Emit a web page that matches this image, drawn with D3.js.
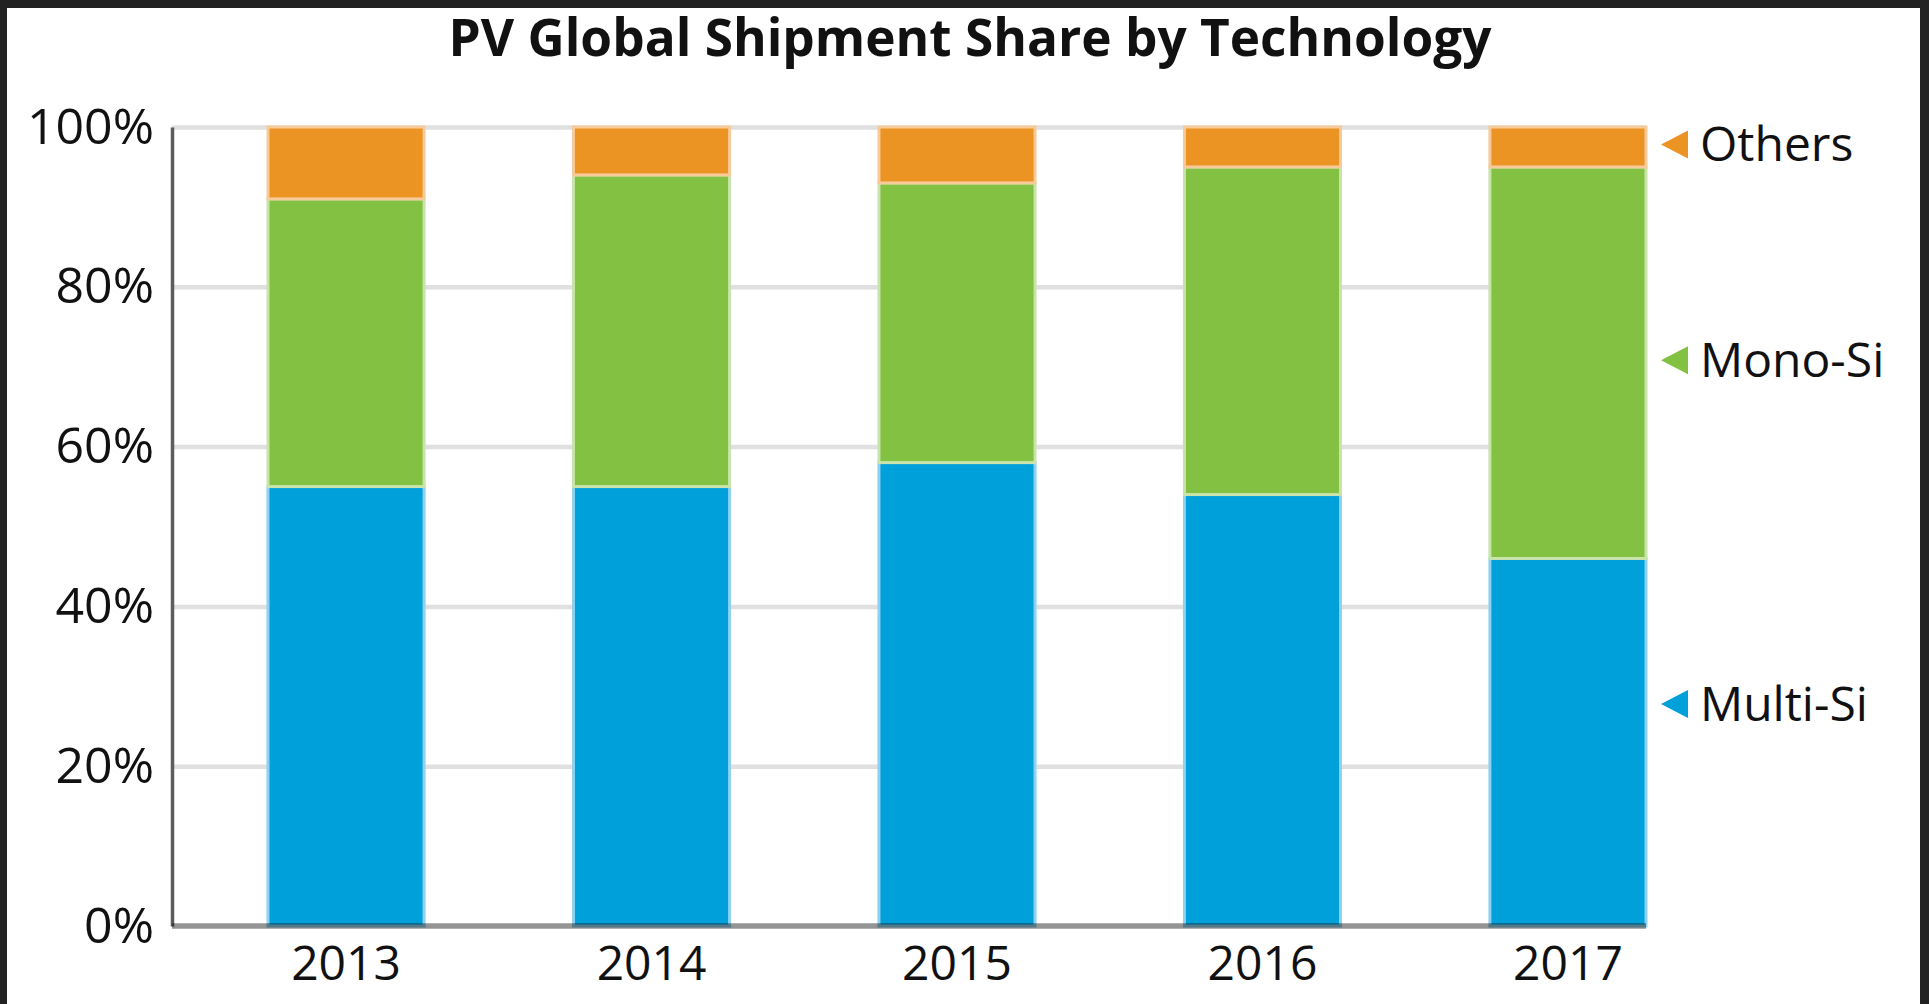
<!DOCTYPE html>
<html>
<head>
<meta charset="utf-8">
<script src="https://cdn.jsdelivr.net/npm/d3@7"></script>
<style>
  html, body { margin: 0; padding: 0; background: #222222; }
  svg { display: block; }
  text { font-family: "Open Sans", "Noto Sans", sans-serif; fill: #111; }
</style>
</head>
<body>
<svg id="chart" width="1929" height="1004"></svg>
<script>
// ---- data ----
const years = ["2013", "2014", "2015", "2016", "2017"];
const multiSi = [55, 55, 58, 54, 46];
const monoSi  = [36, 39, 35, 41, 49];
const others  = [9, 6, 7, 5, 5];
const seriesNames = ["Multi-Si", "Mono-Si", "Others"];
const yTicks = [0, 20, 40, 60, 80, 100];
const titleText = "PV Global Shipment Share by Technology";

// ---- styles ----
const fills   = { "Multi-Si": "#00a0da", "Mono-Si": "#82c142", "Others": "#eb9424" };
const strokes = { "Multi-Si": "#8fd1f0", "Mono-Si": "#c9e4aa", "Others": "#f7cb99" };
// legend anchor positions (value units on the y scale, beside last bar)
const legendAt = { "Others": 97.8, "Mono-Si": 70.8, "Multi-Si": 27.8 };

const svg = d3.select("#chart");
// white panel inside dark frame
svg.append("rect").attr("x", 7).attr("y", 8).attr("width", 1913).attr("height", 996).attr("fill", "#ffffff");

const mLeft = 172, mRight = 1646, mTop = 127, mBottom = 926;

const x = d3.scaleBand().domain(years).range([268, mRight]).paddingInner(0.489).paddingOuter(0);
const y = d3.scaleLinear().domain([0, 100]).range([mBottom, mTop]);

// gridlines
const grid = svg.append("g").attr("transform", `translate(${mLeft},0)`)
  .call(d3.axisLeft(y).tickValues(yTicks.filter(d => d > 0)).tickSize(-(mRight - mLeft)).tickFormat(""));
grid.select(".domain").remove();
grid.selectAll(".tick line").attr("stroke", "#e0e0e0").attr("stroke-width", 4.5);

// stacked data
const rows = years.map((yr, i) => ({ year: yr, "Multi-Si": multiSi[i], "Mono-Si": monoSi[i], "Others": others[i] }));
const stack = d3.stack().keys(seriesNames)(rows);

const layers = svg.append("g").selectAll("g").data(stack).join("g");
layers.selectAll("rect").data(d => d.map(p => ({ key: d.key, p }))).join("rect")
  .attr("x", d => x(d.p.data.year))
  .attr("width", x.bandwidth())
  .attr("y", d => y(d.p[1]))
  .attr("height", d => y(d.p[0]) - y(d.p[1]))
  .attr("fill", d => fills[d.key])
  .attr("stroke", d => strokes[d.key])
  .attr("stroke-width", 3);

// y axis labels + left axis line
const yAxis = svg.append("g").attr("transform", `translate(${mLeft},0)`)
  .call(d3.axisLeft(y).tickValues(yTicks).tickSize(0).tickPadding(18).tickFormat(d => d + "%"));
yAxis.select(".domain").attr("stroke", "#5c5c5c").attr("stroke-width", 3.5);
yAxis.selectAll("text").style("font-size", "50px").style("font-family", "'Open Sans', sans-serif").attr("fill", "#111");

// x axis
const xAxis = svg.append("g").attr("transform", `translate(0,${mBottom})`)
  .call(d3.axisBottom(x).tickSize(0).tickPadding(20));
xAxis.select(".domain").remove();
xAxis.selectAll("text").style("font-size", "48px").style("font-family", "'Open Sans', sans-serif").attr("fill", "#111");
svg.append("line").attr("x1", mLeft).attr("x2", mRight).attr("y1", mBottom).attr("y2", mBottom)
  .attr("stroke", "#000").attr("stroke-opacity", 0.42).attr("stroke-width", 5.5);

// legend (labels beside last bar)
const lx = mRight + 15;
const leg = svg.append("g").selectAll("g").data(seriesNames).join("g")
  .attr("transform", d => `translate(${lx},${y(legendAt[d])})`);
leg.append("path").attr("d", "M0,0 L27,-14 L27,14 Z").attr("fill", d => fills[d]);
leg.append("text").attr("x", 39).attr("dy", "0.35em").style("font-size", "48px").text(d => d);

// title
const title = svg.append("text").attr("x", 970).attr("y", 56).attr("text-anchor", "middle")
  .style("font-size", "46px").style("font-weight", "700").text(titleText);
const tw = title.node().getComputedTextLength();
const target = 1043;
title.style("font-size", (46 * target / tw).toFixed(2) + "px");
</script>
</body>
</html>
